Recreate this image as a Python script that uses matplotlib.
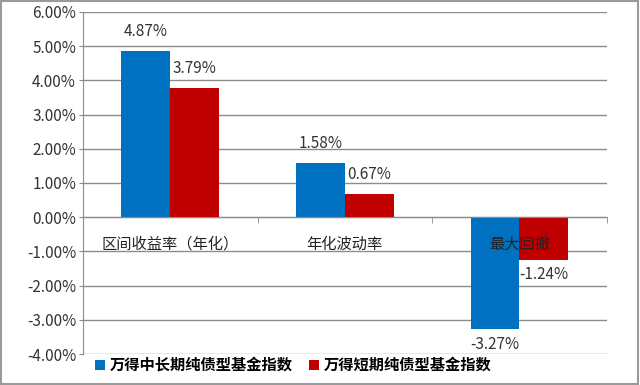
import matplotlib.pyplot as plt
from matplotlib.patches import Rectangle
from matplotlib.ticker import FuncFormatter, MultipleLocator
import numpy as np

plt.rcParams['font.family'] = ['Noto Sans CJK SC', 'DejaVu Sans']

categories = ['区间收益率（年化）', '年化波动率', '最大回撤']
series_names = ['万得中长期纯债型基金指数', '万得短期纯债型基金指数']
long_term = [4.87, 1.58, -3.27]
short_term = [3.79, 0.67, -1.24]
colors = ['#0070C0', '#C00000']

fig = plt.figure(figsize=(6.4, 3.85), dpi=100)
ax = fig.add_axes([0.1297, 0.0805, 0.8183, 0.8885])

x = np.arange(len(categories))
width = 0.28
grid_color = '#8c8c8c'

for i, (vals, name) in enumerate(zip([long_term, short_term], series_names)):
    offset = (i - 0.5) * width
    bars = ax.bar(x + offset, vals, width, color=colors[i], label=name, zorder=3)
    for b, v in zip(bars, vals):
        if v >= 0:
            ax.annotate(f'{v:.2f}%', (b.get_x() + b.get_width() / 2, v),
                        xytext=(0, 14), textcoords='offset points',
                        ha='center', va='center', fontsize=11, color='#333333')
        else:
            ax.annotate(f'{v:.2f}%', (b.get_x() + b.get_width() / 2, v),
                        xytext=(0, -11), textcoords='offset points',
                        ha='center', va='center', fontsize=11, color='#333333')

# category labels sit just under the zero line
for xi, cat in zip(x, categories):
    ax.text(xi, -0.78, cat, ha='center', va='center', fontsize=11,
            color='#222222', zorder=4)

ax.set_xlim(-0.5, 2.5)
ax.set_ylim(-4, 6)
ax.yaxis.set_major_locator(MultipleLocator(1))
ax.yaxis.set_major_formatter(FuncFormatter(lambda v, p: f'{v:.2f}%'))
ax.tick_params(axis='y', length=3, color=grid_color, labelsize=11,
               labelcolor='#333333', pad=2)
ax.grid(axis='y', color=grid_color, linewidth=1, zorder=0)

ax.set_xticks([])
ax.set_xticks([0.5, 1.5, 2.5], minor=True)
ax.tick_params(axis='x', which='minor', length=4, color=grid_color, direction='out')

ax.spines['top'].set_visible(False)
ax.spines['right'].set_visible(False)
ax.spines['left'].set_color(grid_color)
ax.spines['bottom'].set_color(grid_color)
ax.spines['bottom'].set_position(('data', 0))
ax.spines['bottom'].set_zorder(4)

leg = fig.legend(loc='center', bbox_to_anchor=(0.458, 0.052), ncol=2,
                 frameon=False, handlelength=0.65, handleheight=0.65,
                 handletextpad=0.3, columnspacing=1.1,
                 prop={'size': 11, 'weight': 'bold'})

fig.patches.append(Rectangle((0.002, 0.003), 0.995, 0.994, transform=fig.transFigure,
                             fill=False, edgecolor='#9a9a9a', linewidth=1.5))

fig.savefig('out.png', dpi=100)
